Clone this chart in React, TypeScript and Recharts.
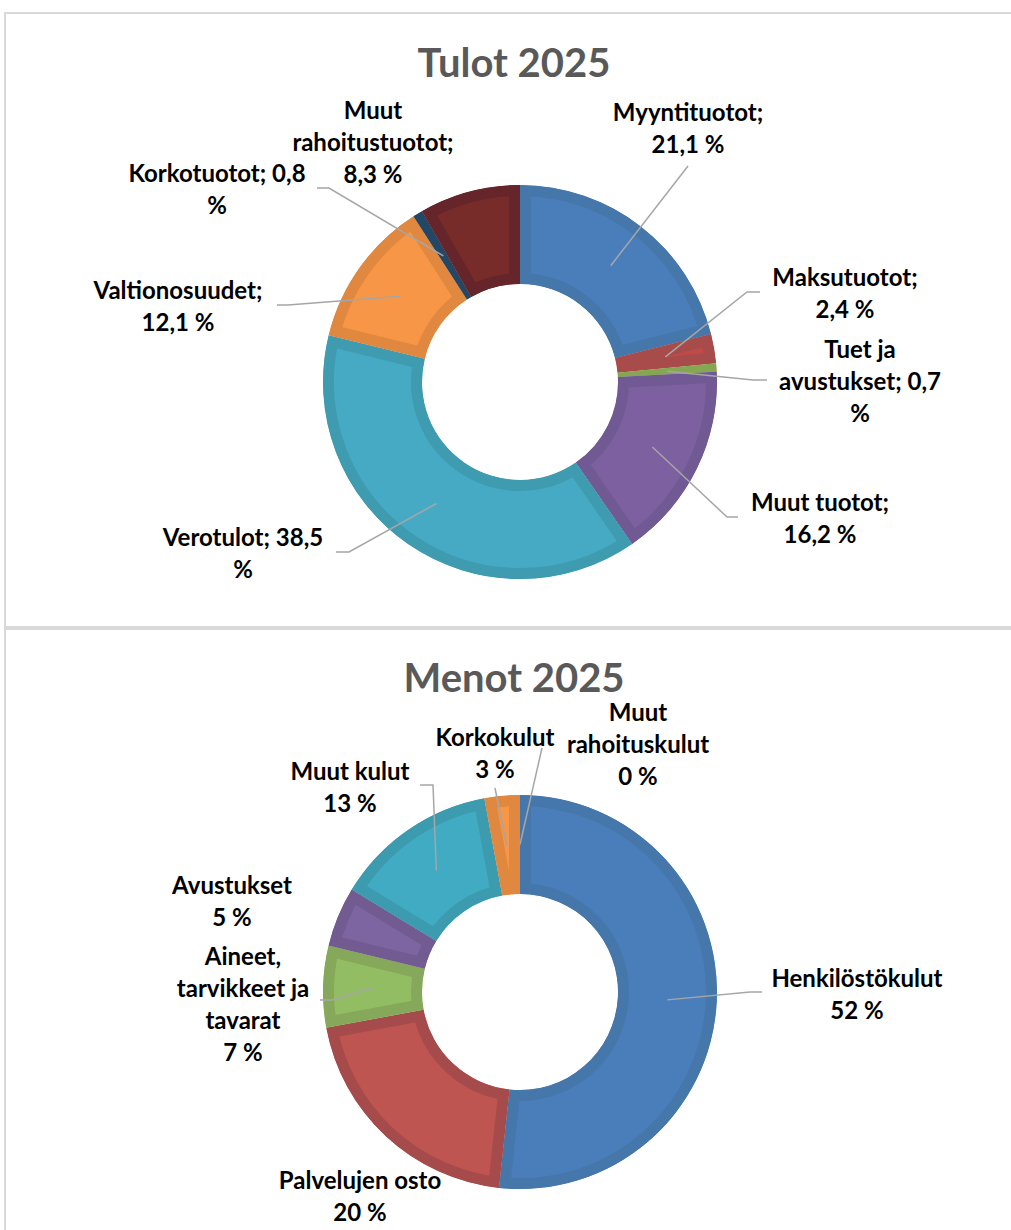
import React from "react";
import { PieChart, Pie, Cell } from "recharts";

// Tulot 2025 (income), clockwise from 12 o'clock
const tuloNames = [
  "Myyntituotot",
  "Maksutuotot",
  "Tuet ja avustukset",
  "Muut tuotot",
  "Verotulot",
  "Valtionosuudet",
  "Korkotuotot",
  "Muut rahoitustuotot",
];
const tuloValues = [21.1, 2.4, 0.7, 16.2, 38.5, 12.1, 0.8, 8.3];
// how many words go on each wrapped label line
const tuloWrap = [[1, 2], [1, 2], [2, 2, 1], [2, 2], [2, 1], [1, 2], [2, 1], [1, 1, 2]];

// Menot 2025 (expenses)
const menoNames = [
  "Henkilöstökulut",
  "Palvelujen osto",
  "Aineet, tarvikkeet ja tavarat",
  "Avustukset",
  "Muut kulut",
  "Korkokulut",
  "Muut rahoituskulut",
];
const menoValues = [51.7, 20.4, 6.7, 4.9, 13.4, 2.9, 0];
const menoWrap = [[1, 2], [2, 2], [1, 2, 1, 2], [1, 2], [2, 2], [1, 2], [1, 1, 2]];

// office palette: light fill + darker inset border
const tuloFill = ["#4a7ebb", "#be4b48", "#98b954", "#7d60a0", "#46aac5", "#f79646", "#2c4d75", "#772c2a"];
const tuloDark = ["#4577aa", "#a84b4b", "#86a752", "#715a93", "#3e9bb0", "#e0883f", "#254766", "#65252a"];
const menoFill = ["#4a7ebb", "#be5550", "#93bd62", "#7d65a2", "#42abc4", "#f79646", "#2c4d75"];
const menoDark = ["#4577aa", "#a64b4b", "#86a85a", "#725b91", "#3d9bb0", "#e0883f", "#254766"];

// label placement relative to pie centre: first-line centre + leader bends
type LabelPos = { t: [number, number]; line: [number, number][] };
const tuloLabelPos: LabelPos[] = [
  { t: [168, -270], line: [[168, -216]] },
  { t: [325, -105], line: [[227, -90], [240, -90]] },
  { t: [340, -33], line: [[233, -2], [247, -2]] },
  { t: [300, 120], line: [[207, 135], [218, 135]] },
  { t: [-277, 155], line: [[-171, 170], [-184, 170]] },
  { t: [-342, -92], line: [[-232, -77], [-243, -77]] },
  { t: [-303, -209], line: [[-191, -194], [-203, -194]] },
  { t: [-147, -272], line: [] },
];
const menoLabelPos: LabelPos[] = [
  { t: [337, -14], line: [[230, 0], [242, 0]] },
  { t: [-160, 188], line: [] },
  { t: [-277, -36], line: [[-188, 8], [-200, 8]] },
  { t: [-288, -107], line: [] },
  { t: [-170, -221], line: [[-87, -207], [-100, -207]] },
  { t: [-25, -255], line: [[-25, -204]] },
  { t: [118, -280], line: [[22, -244]] },
];

const RAD = Math.PI / 180;
const FONT = "Lato, 'Open Sans', sans-serif";

function sectorPath(cx: number, cy: number, ir: number, or: number, sa: number, ea: number) {
  const pt = (r: number, a: number) => `${cx + r * Math.cos(-a * RAD)},${cy + r * Math.sin(-a * RAD)}`;
  const large = Math.abs(ea - sa) > 180 ? 1 : 0;
  const sweep = sa > ea ? 1 : 0;
  return `M${pt(or, sa)} A${or},${or} 0 ${large} ${sweep} ${pt(or, ea)} L${pt(ir, ea)} A${ir},${ir} 0 ${large} ${1 - sweep} ${pt(ir, sa)} Z`;
}

// sector with a border that stays inside the slice (clipped stroke)
const makeShape = (prefix: string) => (props: any) => {
  const { cx, cy, innerRadius, outerRadius, startAngle, endAngle } = props;
  if (Math.abs(endAngle - startAngle) < 0.05) return <g />;
  const row = props.payload?.payload ?? props.payload ?? {};
  const fill = row.fill ?? props.fill;
  const dark = row.dark ?? props.stroke;
  const d = sectorPath(cx, cy, innerRadius, outerRadius, startAngle, endAngle);
  const id = `${prefix}-${Math.round(startAngle * 100)}`;
  return (
    <g>
      <defs>
        <clipPath id={id}>
          <path d={d} />
        </clipPath>
      </defs>
      <path d={d} fill={fill} stroke={dark} strokeWidth={22} clipPath={`url(#${id})`} />
    </g>
  );
};

const makeLabel = (names: string[], wraps: number[][], pos: LabelPos[], text: (i: number) => string) => (p: any) => {
  const i = typeof p.index === "number" ? p.index : names.indexOf(p.name);
  if (i < 0 || !pos[i]) return null;
  const { cx, cy, midAngle, innerRadius, outerRadius } = p;
  const r = (innerRadius + outerRadius) / 2;
  const sx = cx + r * Math.cos(-midAngle * RAD);
  const sy = cy + r * Math.sin(-midAngle * RAD);
  const words = text(i).split(" ");
  const lines: string[] = [];
  let k = 0;
  wraps[i].forEach((n) => {
    lines.push(words.slice(k, k + n).join(" "));
    k += n;
  });
  const lp = pos[i];
  const pts = [[sx, sy], ...lp.line.map(([x, y]) => [cx + x, cy + y])];
  return (
    <g key={`lbl-${i}`}>
      {lp.line.length > 0 && (
        <polyline points={pts.map((q) => q.join(",")).join(" ")} fill="none" stroke="#a6a6a6" strokeWidth={1.5} />
      )}
      <text
        x={cx + lp.t[0]}
        y={cy + lp.t[1] + 8.5}
        textAnchor="middle"
        fontFamily={FONT}
        fontWeight={700}
        fontSize={24}
        fill="#000"
      >
        {lines.map((l, j) => (
          <tspan key={j} x={cx + lp.t[0]} dy={j === 0 ? 0 : 32}>
            {l}
          </tspan>
        ))}
      </text>
    </g>
  );
};

const tuloData = tuloNames.map((name, i) => ({ name, value: tuloValues[i], fill: tuloFill[i], dark: tuloDark[i] }));
const menoData = menoNames.map((name, i) => ({ name, value: menoValues[i], fill: menoFill[i], dark: menoDark[i] }));

const tuloText = (i: number) => `${tuloNames[i]}; ${tuloValues[i].toFixed(1).replace(".", ",")} %`;
const menoText = (i: number) => `${menoNames[i]} ${Math.round(menoValues[i])} %`;

function Donut({ data, cy, prefix, label }: { data: any[]; cy: number; prefix: string; label: any }) {
  const shape = makeShape(prefix);
  return (
    <PieChart width={1011} height={615} margin={{ top: 0, right: 0, bottom: 0, left: 0 }}>
      <Pie
        data={data}
        dataKey="value"
        nameKey="name"
        cx={520}
        cy={cy}
        innerRadius={98}
        outerRadius={197}
        startAngle={90}
        endAngle={-270}
        stroke="none"
        isAnimationActive={false}
        labelLine={false}
        label={label}
        inactiveShape={shape}
        activeShape={shape}
        {...({ shape } as any)}
      >
        {data.map((d, i) => (
          <Cell key={`cell-${i}`} fill={d.fill} stroke={d.dark} />
        ))}
      </Pie>
    </PieChart>
  );
}

const panel: React.CSSProperties = {
  position: "absolute",
  left: 4,
  width: 1100,
  border: "2px solid #d9d9d9",
  boxSizing: "border-box",
};
const title: React.CSSProperties = {
  position: "absolute",
  left: 0,
  width: 1028,
  textAlign: "center",
  fontFamily: FONT,
  fontWeight: 700,
  fontSize: 40,
  color: "#595959",
  height: 50,
  lineHeight: "50px",
};

export default function App() {
  return (
    <div style={{ position: "absolute", left: 0, top: 0, width: 1011, height: 1230, overflow: "hidden", background: "#fff" }}>
      <div style={{ ...panel, top: 12, height: 616 }} />
      <div style={{ ...panel, top: 628, height: 700 }} />
      <div style={{ ...title, top: 37 }}>Tulot 2025</div>
      <div style={{ ...title, top: 652 }}>Menot 2025</div>
      <div style={{ position: "absolute", left: 0, top: 0 }}>
        <Donut data={tuloData} cy={382} prefix="tulo" label={makeLabel(tuloNames, tuloWrap, tuloLabelPos, tuloText)} />
      </div>
      <div style={{ position: "absolute", left: 0, top: 615 }}>
        <Donut data={menoData} cy={377} prefix="meno" label={makeLabel(menoNames, menoWrap, menoLabelPos, menoText)} />
      </div>
    </div>
  );
}
